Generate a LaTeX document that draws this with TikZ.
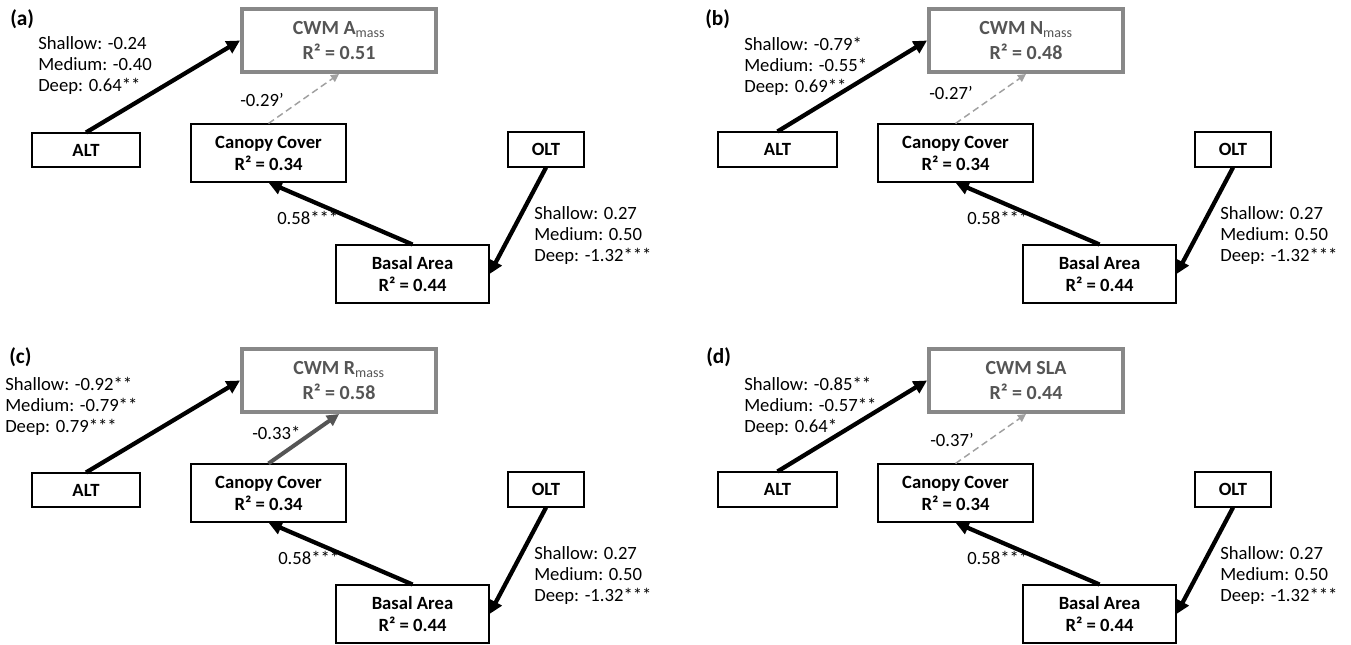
\documentclass[tikz,border=0pt]{standalone}
\usepackage{fontspec}
\setmainfont{Carlito}
\usetikzlibrary{arrows.meta,positioning}
\definecolor{Frame}{RGB}{136,136,136}
\definecolor{Ink}{RGB}{85,85,85}
\definecolor{Faint}{RGB}{160,160,160}

\tikzset{
  box/.style={draw=black,line width=0.8pt,fill=white,align=center,inner sep=0pt,
    font=\fontsize{14}{16.5}\selectfont\bfseries},
  canbox/.style={box,minimum width=116.25pt,minimum height=43.5pt},
  basbox/.style={box,minimum width=114.75pt,minimum height=43.5pt},
  altbox/.style={box,minimum width=81pt,minimum height=25.5pt},
  widebox/.style={box,minimum width=89.25pt,minimum height=26.25pt},
  oltbox/.style={box,minimum width=57pt,minimum height=26.25pt},
  resp/.style={draw=Frame,line width=3pt,fill=white,text=Ink,align=center,inner sep=0pt,
    minimum width=145.5pt,minimum height=47.25pt,font=\fontsize{15}{18.5}\selectfont\bfseries},
  coef/.style={anchor=west,align=left,inner sep=0pt,font=\fontsize{14}{15.75}\selectfont},
  tag/.style={anchor=west,inner sep=0pt,font=\fontsize{16}{18}\selectfont\bfseries},
  strong/.style={line width=3.2pt,-{Triangle[length=10pt,width=10pt]}},
  weak/.style={draw=Faint,line width=1.1pt,dash pattern=on 5pt off 3pt,-{Triangle[length=6pt,width=6pt]}},
  midgray/.style={draw=Ink,line width=3pt,-{Triangle[length=9pt,width=9pt]}}
}

\begin{document}
\begin{tikzpicture}[x=0.75pt,y=-0.75pt]
  \useasboundingbox (0,0) rectangle (1351,644);

  % (a)
  \begin{scope}
    \node[tag] (tagA) at (10,19) {(a)};
    \node[resp] (cwmA) at (339,40.5) {CWM A\textsubscript{\mdseries mass}\\R² = 0.51};
    \node[canbox] (canA) at (268.5,153) {Canopy Cover\\R² = 0.34};
    \node[altbox] (altA) at (86,150) {ALT};
    \node[oltbox] (oltA) at (546,149.5) {OLT};
    \node[basbox] (basA) at (412.5,274) {Basal Area\\R² = 0.44};
    \draw[strong] (altA.north) -- (cwmA.west);
    \draw[weak] (canA.north) -- (cwmA.south);
    \draw[strong] (basA.north) -- (canA.south);
    \draw[strong] (oltA.south) -- (basA.east);
    \node[coef] (altcA) at (38,66) {Shallow: -0.24\\Medium: -0.40\\Deep: 0.64**};
    \node[coef] (cancA) at (240,100) {-0.29’};
    \node[coef] (bascA) at (277,218) {0.58***};
    \node[coef] (oltcA) at (534,236) {Shallow: 0.27\\Medium: 0.50\\Deep: -1.32***};
  \end{scope}

  % (b)
  \begin{scope}[shift={(687,0)}]
    \node[tag] (tagB) at (18,19) {(b)};
    \node[resp] (cwmB) at (339,40.5) {CWM N\textsubscript{\mdseries mass}\\R² = 0.48};
    \node[canbox] (canB) at (268.5,153) {Canopy Cover\\R² = 0.34};
    \node[widebox] (altB) at (90.5,149.5) {ALT};
    \node[oltbox] (oltB) at (546,149.5) {OLT};
    \node[basbox] (basB) at (412.5,274) {Basal Area\\R² = 0.44};
    \draw[strong] (altB.north) -- (cwmB.west);
    \draw[weak] (canB.north) -- (cwmB.south);
    \draw[strong] (basB.north) -- (canB.south);
    \draw[strong] (oltB.south) -- (basB.east);
    \node[coef] (altcB) at (57,66) {Shallow: -0.79*\\Medium: -0.55*\\Deep: 0.69**};
    \node[coef] (cancB) at (242,93) {-0.27’};
    \node[coef] (bascB) at (280,218) {0.58***};
    \node[coef] (oltcB) at (533,236) {Shallow: 0.27\\Medium: 0.50\\Deep: -1.32***};
  \end{scope}

  % (c)
  \begin{scope}[shift={(0,340)}]
    \node[tag] (tagC) at (9,17) {(c)};
    \node[resp] (cwmC) at (339,40.5) {CWM R\textsubscript{\mdseries mass}\\R² = 0.58};
    \node[canbox] (canC) at (268.5,153) {Canopy Cover\\R² = 0.34};
    \node[altbox] (altC) at (86,150) {ALT};
    \node[oltbox] (oltC) at (546,149.5) {OLT};
    \node[basbox] (basC) at (412.5,274) {Basal Area\\R² = 0.44};
    \draw[strong] (altC.north) -- (cwmC.west);
    \draw[midgray] (canC.north) -- (cwmC.south);
    \draw[strong] (basC.north) -- (canC.south);
    \draw[strong] (oltC.south) -- (basC.east);
    \node[coef] (altcC) at (5,66) {Shallow: -0.92**\\Medium: -0.79**\\Deep: 0.79***};
    \node[coef] (cancC) at (252,93) {-0.33*};
    \node[coef] (bascC) at (278,218) {0.58***};
    \node[coef] (oltcC) at (534,236) {Shallow: 0.27\\Medium: 0.50\\Deep: -1.32***};
  \end{scope}

  % (d)
  \begin{scope}[shift={(687,340)}]
    \node[tag] (tagD) at (19,17) {(d)};
    \node[resp] (cwmD) at (339,40.5) {CWM SLA\\R² = 0.44};
    \node[canbox] (canD) at (268.5,153) {Canopy Cover\\R² = 0.34};
    \node[widebox] (altD) at (90.5,149.5) {ALT};
    \node[oltbox] (oltD) at (546,149.5) {OLT};
    \node[basbox] (basD) at (412.5,274) {Basal Area\\R² = 0.44};
    \draw[strong] (altD.north) -- (cwmD.west);
    \draw[weak] (canD.north) -- (cwmD.south);
    \draw[strong] (basD.north) -- (canD.south);
    \draw[strong] (oltD.south) -- (basD.east);
    \node[coef] (altcD) at (57,66) {Shallow: -0.85**\\Medium: -0.57**\\Deep: 0.64*};
    \node[coef] (cancD) at (243,100) {-0.37’};
    \node[coef] (bascD) at (280,218) {0.58***};
    \node[coef] (oltcD) at (533,236) {Shallow: 0.27\\Medium: 0.50\\Deep: -1.32***};
  \end{scope}
\end{tikzpicture}
\end{document}
